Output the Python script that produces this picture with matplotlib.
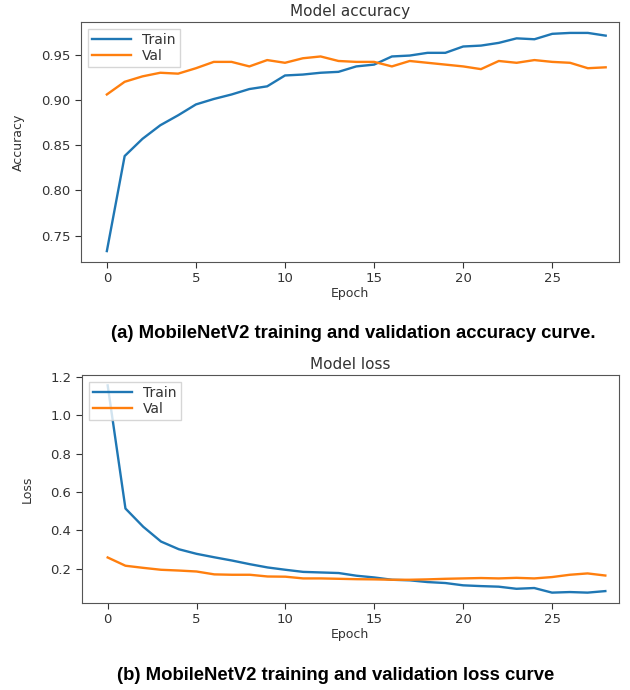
import numpy as np
import matplotlib
matplotlib.use("Agg")
from matplotlib import pyplot as plt

# MobileNetV2 training history
epochs = list(range(29))
train_acc = [0.733, 0.838, 0.857, 0.872, 0.883, 0.895, 0.901, 0.906, 0.912, 0.915,
             0.927, 0.928, 0.930, 0.931, 0.937, 0.939, 0.948, 0.949, 0.952, 0.952,
             0.959, 0.960, 0.963, 0.968, 0.967, 0.973, 0.974, 0.974, 0.971]
val_acc = [0.906, 0.920, 0.926, 0.930, 0.929, 0.935, 0.942, 0.942, 0.937, 0.944,
           0.941, 0.946, 0.948, 0.943, 0.942, 0.942, 0.937, 0.943, 0.941, 0.939,
           0.937, 0.934, 0.943, 0.941, 0.944, 0.942, 0.941, 0.935, 0.936]
train_loss = [1.155, 0.514, 0.419, 0.342, 0.302, 0.278, 0.260, 0.243, 0.224, 0.207,
              0.195, 0.184, 0.181, 0.178, 0.164, 0.155, 0.143, 0.140, 0.131, 0.126,
              0.114, 0.110, 0.107, 0.096, 0.100, 0.076, 0.079, 0.076, 0.084]
val_loss = [0.259, 0.216, 0.205, 0.195, 0.191, 0.186, 0.171, 0.169, 0.169, 0.160,
            0.159, 0.150, 0.150, 0.148, 0.146, 0.145, 0.143, 0.143, 0.145, 0.148,
            0.150, 0.152, 0.150, 0.153, 0.150, 0.157, 0.169, 0.176, 0.165]

acc_yticks = [0.75, 0.80, 0.85, 0.90, 0.95]
loss_yticks = [0.2, 0.4, 0.6, 0.8, 1.0, 1.2]
xticks = [0, 5, 10, 15, 20, 25]

text_col = "#333333"
cap_font = ["Liberation Sans", "DejaVu Sans"]

fig = plt.figure(figsize=(6.3, 6.9), dpi=100)
ax1 = fig.add_axes([0.1286, 0.6203, 0.854, 0.3478])
ax2 = fig.add_axes([0.130, 0.1261, 0.852, 0.3304])


def style(ax, title, ylabel, yticks, fmt):
    ax.set_title(title, fontsize=11, color=text_col, pad=4)
    ax.set_xlabel("Epoch", fontsize=9, color=text_col, labelpad=1)
    ax.set_ylabel(ylabel, fontsize=9, color=text_col, labelpad=12)
    ax.set_xticks(xticks)
    ax.set_yticks(yticks)
    ax.set_yticklabels([fmt % v for v in yticks])
    ax.set_xlim(-1.45, 28.75)
    ax.tick_params(labelsize=9.5, colors=text_col, length=4)
    for s in ax.spines.values():
        s.set_color("#555555")
    leg = ax.legend(loc="upper left", fontsize=10, borderpad=0.3,
                    handlelength=2.8, labelspacing=0.15, fancybox=False)
    leg.get_frame().set_edgecolor("#cccccc")
    for t in leg.get_texts():
        t.set_color(text_col)


ax1.plot(epochs, train_acc, color="#1f77b4", lw=1.7, label="Train")
ax1.plot(epochs, val_acc, color="#ff7f0e", lw=1.7, label="Val")
style(ax1, "Model accuracy", "Accuracy", acc_yticks, "%.2f")

ax2.plot(epochs, train_loss, color="#1f77b4", lw=1.7, label="Train")
ax2.plot(epochs, val_loss, color="#ff7f0e", lw=1.7, label="Val")
style(ax2, "Model loss", "Loss", loss_yticks, "%.1f")

fig.text(0.56, 1 - 333 / 690, "(a) MobileNetV2 training and validation accuracy curve.",
         ha="center", va="center", fontsize=13.3, fontweight="bold", family=cap_font)
fig.text(0.532, 1 - 675 / 690, "(b) MobileNetV2 training and validation loss curve",
         ha="center", va="center", fontsize=13.3, fontweight="bold", family=cap_font)

fig.savefig("out.png", dpi=100)
